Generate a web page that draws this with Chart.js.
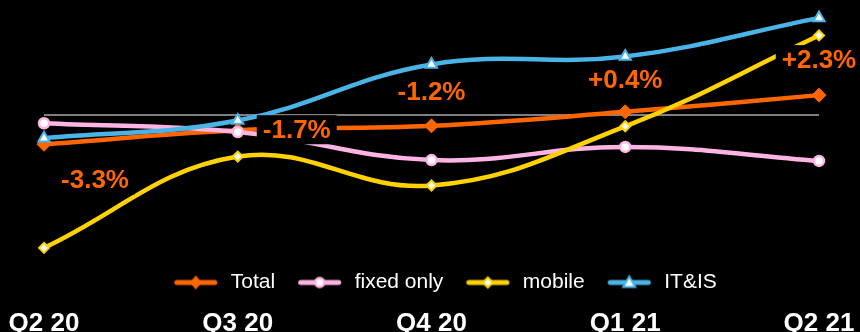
<!DOCTYPE html>
<html>
<head>
<meta charset="utf-8">
<title>Quarterly revenue growth</title>
<script src="https://cdn.jsdelivr.net/npm/chart.js@4.4.1/dist/chart.umd.min.js"></script>
<style>
  html, body { margin: 0; padding: 0; background: #000; }
  #chart { display: block; }
</style>
</head>
<body>
<canvas id="chart" width="860" height="332"></canvas>
<script>
'use strict';

// ******* DATA *******
let quarters = ['Q2 20', 'Q3 20', 'Q4 20', 'Q1 21', 'Q2 21'];
let seriesNames = ['Total', 'fixed only', 'mobile', 'IT&IS'];

let totalValues = [-3.3, -1.7, -1.2, 0.4, 2.3];
let fixedValues = [-0.9, -1.9, -5.1, -3.6, -5.2];
let mobileValues = [-15.1, -4.7, -8.0, -1.25, 9.1];
let itisValues = [-2.6, -0.6, 5.8, 6.7, 11.1];

// ******* STYLE *******
let orange = '#FF6600';
let pink = '#FFB4E6';
let yellow = '#FFD200';
let blue = '#4BB4E6';
let fontFamily = '"Liberation Sans", Arial, Helvetica, sans-serif';

// where the Total labels sit, relative to their point
let labelOffsets = [[51, 36], [59, 0], [0, -34], [0, -32], [0, -35]];
// the legend is a bit right of centre in the original
let legendShift = 8;

// ***** HELPERS *****
function formatGrowth(value) {
  return (value > 0 ? '+' : '') + value.toFixed(1) + '%';
}

// legend sample: short thick line with the marker in the middle
function makeLegendIcon(color, shape) {
  let icon = document.createElement('canvas');
  icon.width = 58;
  icon.height = 18;
  let c = icon.getContext('2d');
  let cx = 33.5;
  let cy = 9;

  c.strokeStyle = color;
  c.lineWidth = 5;
  c.lineCap = 'round';
  c.beginPath();
  c.moveTo(14.5, cy);
  c.lineTo(52.5, cy);
  c.stroke();

  c.beginPath();
  if (shape === 'diamond') {
    c.moveTo(cx, cy - 7);
    c.lineTo(cx + 6, cy);
    c.lineTo(cx, cy + 7);
    c.lineTo(cx - 6, cy);
    c.closePath();
    c.fillStyle = color;
    c.fill();
  } else if (shape === 'smallDiamond') {
    c.moveTo(cx, cy - 5);
    c.lineTo(cx + 5, cy);
    c.lineTo(cx, cy + 5);
    c.lineTo(cx - 5, cy);
    c.closePath();
    c.fillStyle = '#fff';
    c.fill();
    c.lineWidth = 2;
    c.stroke();
  } else if (shape === 'circle') {
    c.arc(cx, cy, 4.5, 0, Math.PI * 2);
    c.fillStyle = '#fff';
    c.fill();
    c.lineWidth = 2.5;
    c.stroke();
  } else {
    c.moveTo(cx, cy - 6);
    c.lineTo(cx + 6, cy + 4.5);
    c.lineTo(cx - 6, cy + 4.5);
    c.closePath();
    c.fillStyle = '#fff';
    c.fill();
    c.lineWidth = 2;
    c.stroke();
  }
  return icon;
}

let legendIcons = [
  makeLegendIcon(orange, 'diamond'),
  makeLegendIcon(pink, 'circle'),
  makeLegendIcon(yellow, 'smallDiamond'),
  makeLegendIcon(blue, 'triangle')
];

// ***** PLUGINS *****
let totalLabelPlugin = {
  id: 'totalLabels',
  afterDatasetsDraw(chart) {
    let ctx = chart.ctx;
    let meta = chart.getDatasetMeta(0);
    ctx.save();
    ctx.font = 'bold 26px ' + fontFamily;
    ctx.textAlign = 'center';
    ctx.textBaseline = 'middle';
    meta.data.forEach((point, i) => {
      let text = formatGrowth(totalValues[i]);
      let x = point.x + labelOffsets[i][0];
      let y = point.y + labelOffsets[i][1];
      let w = ctx.measureText(text).width;
      ctx.fillStyle = '#000';
      ctx.fillRect(x - w / 2 - 6, y - 15, w + 12, 29);
      ctx.fillStyle = orange;
      ctx.fillText(text, x, y + 1);
    });
    ctx.restore();
  }
};

let legendNudgePlugin = {
  id: 'legendNudge',
  afterLayout(chart) {
    chart.legend.left += legendShift;
    chart.legend.right += legendShift;
  }
};

// ***** CHART *****
function lineSeries(index, values, color, pointStyle, radius, pointFill, pointBorder) {
  return {
    label: seriesNames[index],
    data: values,
    borderColor: color,
    backgroundColor: color,
    borderWidth: 4.5,
    tension: 0.4,
    pointStyle: pointStyle,
    pointRadius: radius,
    pointBackgroundColor: pointFill,
    pointBorderColor: color,
    pointBorderWidth: pointBorder,
    order: 4 - index,
    clip: 12
  };
}

let canvasElem = document.getElementById('chart');

let chartObj = {
  type: 'line',
  data: {
    labels: quarters,
    datasets: [
      lineSeries(0, totalValues, orange, 'rectRot', 7, orange, 1),
      lineSeries(1, fixedValues, pink, 'circle', 5, '#fff', 2.5),
      lineSeries(2, mobileValues, yellow, 'rectRot', 5, '#fff', 2),
      lineSeries(3, itisValues, blue, 'triangle', 6.5, '#fff', 2)
    ]
  },
  options: {
    responsive: false,
    animation: false,
    layout: {
      padding: { top: 10, left: 44, right: 41, bottom: -5 }
    },
    plugins: {
      tooltip: { enabled: false },
      legend: {
        position: 'bottom',
        labels: {
          color: '#fff',
          font: { family: fontFamily, size: 21 },
          usePointStyle: true,
          pointStyleWidth: 58,
          padding: 11,
          sort: (a, b) => a.datasetIndex - b.datasetIndex,
          generateLabels: function (chart) {
            let items = Chart.defaults.plugins.legend.labels.generateLabels(chart);
            items.forEach(item => {
              item.pointStyle = legendIcons[item.datasetIndex];
            });
            return items;
          }
        }
      }
    },
    scales: {
      x: {
        weight: 2000,
        grid: { display: false },
        border: { display: false },
        ticks: {
          color: '#fff',
          padding: 0,
          maxRotation: 0,
          autoSkip: false,
          font: { family: fontFamily, size: 26, weight: 'bold', lineHeight: 1 }
        }
      },
      y: {
        min: -16.6,
        max: 12,
        border: { display: false },
        ticks: { display: false, stepSize: 4 },
        grid: {
          drawTicks: false,
          lineWidth: 2,
          color: ctx => ctx.tick.value === 0 ? '#7f7f7f' : 'rgba(0,0,0,0)'
        }
      }
    }
  },
  plugins: [totalLabelPlugin, legendNudgePlugin]
};

new Chart(canvasElem, chartObj);
</script>
</body>
</html>
